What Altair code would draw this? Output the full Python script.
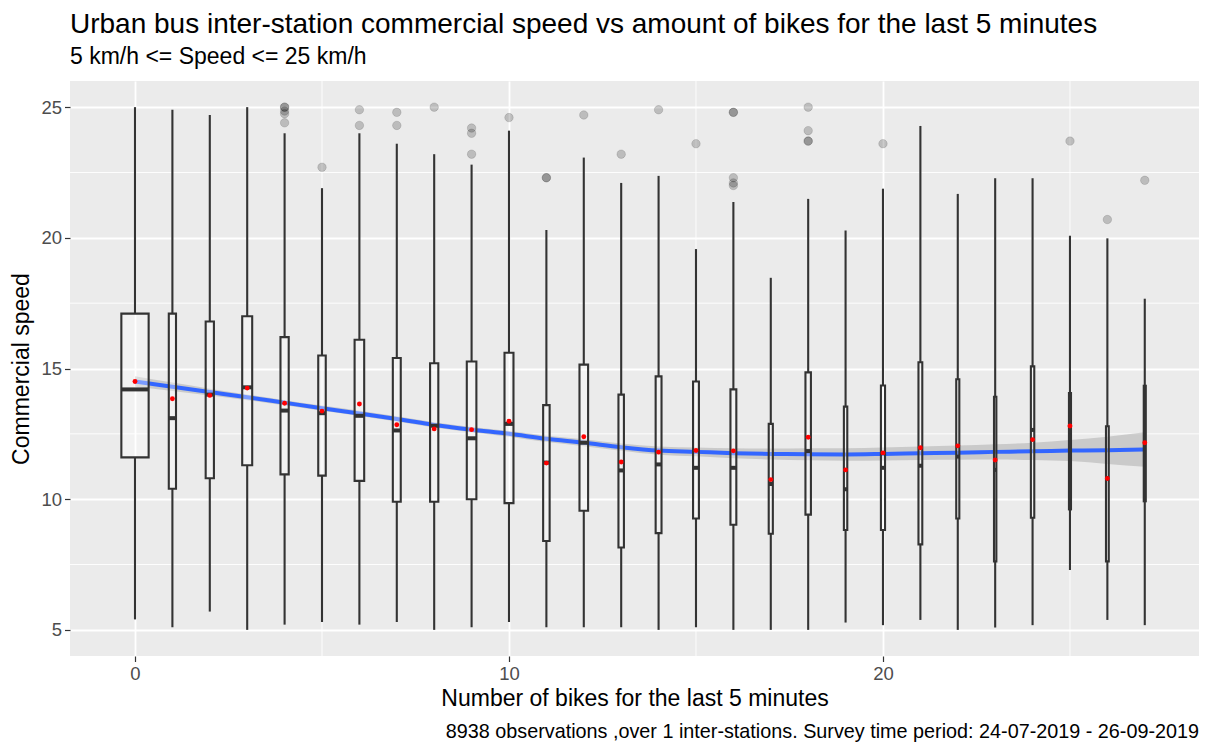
import altair as alt
import pandas as pd
import numpy as np

FONT = "Liberation Sans"

# ---- data ----
bikes = list(range(28))
n_obs = [3569, 249, 325, 478, 325, 271, 440, 301, 325, 440, 385, 202, 355, 143,
         165, 165, 165, 81, 143, 55, 81, 70, 46, 27, 55, 20, 37, 20]
whisker_low = [5.4, 5.1, 5.7, 5.0, 5.2, 5.3, 5.2, 5.3, 5.0, 5.1, 5.3, 5.1, 5.1, 5.1,
               5.0, 5.1, 5.0, 5.0, 5.0, 5.28, 5.18, 5.38, 5.0, 5.09, 5.18, 7.29, 5.38, 5.18]
q1 = [11.6, 10.4, 10.8, 11.3, 10.95, 10.9, 10.7, 9.9, 9.9, 10.0, 9.85, 8.4, 9.56, 8.15,
      8.7, 9.26, 9.02, 8.68, 9.41, 8.82, 8.82, 8.27, 9.26, 7.62, 9.29, 9.61, 7.62, 9.92]
median = [14.2, 13.1, 14.0, 14.28, 13.39, 13.29, 13.19, 12.63, 12.81, 12.33, 12.88, 11.4, 12.16, 11.1,
          11.33, 11.2, 11.2, 10.58, 11.84, 10.38, 11.2, 11.28, 11.63, 11.12, 12.65, 11.9, 10.8, 12.1]
q3 = [17.1, 17.1, 16.8, 17.0, 16.2, 15.5, 16.1, 15.4, 15.2, 15.27, 15.6, 13.6, 15.15, 14.0,
      14.7, 14.5, 14.2, 12.88, 14.85, 13.54, 14.35, 15.24, 14.59, 13.92, 15.08, 14.06, 12.79, 14.34]
whisker_high = [25.0, 24.9, 24.7, 25.0, 24.0, 21.9, 24.0, 23.6, 23.2, 22.8, 24.1, 20.3, 23.07, 22.1,
                22.37, 19.57, 21.37, 18.47, 21.49, 20.28, 21.88, 24.28, 21.68, 22.28, 22.28, 20.08, 19.98, 17.67]
mean_speed = [14.5, 13.84, 13.97, 14.25, 13.67, 13.37, 13.64, 12.85, 12.69, 12.66, 12.98, 11.38, 12.39, 11.42,
              11.8, 11.86, 11.85, 10.75, 12.37, 11.12, 11.77, 11.97, 12.04, 11.5, 12.28, 12.8, 10.79, 12.16]

outlier_bikes = [4, 4, 4, 4, 4, 5, 6, 6, 7, 7, 8, 9, 9, 9, 10, 11, 11, 12, 13, 14, 15,
                 16, 16, 16, 16, 16, 18, 18, 18, 18, 20, 25, 26, 27]
outlier_speed = [25.0, 25.0, 24.85, 24.75, 24.4, 22.7, 24.9, 24.3, 24.8, 24.3, 25.0, 24.2, 24.0, 23.2,
                 24.6, 22.3, 22.3, 24.7, 23.2, 24.9, 23.6, 24.8, 24.8, 22.3, 22.1, 22.0,
                 25.0, 24.1, 23.7, 23.7, 23.6, 23.7, 20.7, 22.2]

smooth_fit = [14.5, 14.3, 14.1, 13.9, 13.69, 13.48, 13.28, 13.07, 12.84, 12.66, 12.5, 12.31, 12.16, 11.99,
              11.86, 11.81, 11.76, 11.73, 11.72, 11.71, 11.73, 11.76, 11.78, 11.81, 11.83, 11.86, 11.87, 11.9]
smooth_se = [0.2, 0.16, 0.13, 0.11, 0.1, 0.1, 0.1, 0.1, 0.1, 0.1, 0.11, 0.12, 0.13, 0.14,
             0.16, 0.17, 0.19, 0.21, 0.23, 0.24, 0.25, 0.26, 0.27, 0.29, 0.33, 0.4, 0.52, 0.66]

x_major = [0, 10, 20]
x_minor = [5, 15, 25]
y_major = [5, 10, 15, 20, 25]
y_minor = [7.5, 12.5, 17.5, 22.5]

title_text = "Urban bus inter-station commercial speed vs amount of bikes for the last 5 minutes"
subtitle_text = "5 km/h <= Speed <= 25 km/h"
caption_text = "8938 observations ,over 1 inter-stations. Survey time period: 24-07-2019 - 26-09-2019"

# ---- tables ----
n_arr = np.array(n_obs, dtype=float)
half = 0.365 * np.sqrt(n_arr / n_arr.max())
boxes = pd.DataFrame({
    "x": bikes, "xl": np.array(bikes) - half, "xr": np.array(bikes) + half,
    "lo": whisker_low, "q1": q1, "med": median, "q3": q3, "hi": whisker_high, "mean": mean_speed,
})
outl = pd.DataFrame({"x": outlier_bikes, "y": outlier_speed})
fit = np.array(smooth_fit)
se = np.array(smooth_se)
smooth = pd.DataFrame({"x": bikes, "fit": fit, "lo": fit - se, "hi": fit + se})

xscale = alt.Scale(domain=[-1.738, 28.45], nice=False, zero=False)
yscale = alt.Scale(domain=[4, 26], nice=False, zero=False)
xaxis = alt.Axis(values=x_major, format="d", title="Number of bikes for the last 5 minutes",
                 titlePadding=4, labelPadding=3)
yaxis = alt.Axis(values=y_major, format="d", title="Commercial speed", titlePadding=7, labelPadding=3)


def X(f):
    return alt.X(f, type="quantitative", scale=xscale, axis=xaxis)


def Y(f):
    return alt.Y(f, type="quantitative", scale=yscale, axis=yaxis)


minor_x = alt.Chart(pd.DataFrame({"v": x_minor})).mark_rule(color="white", strokeWidth=0.9).encode(x=X("v"))
minor_y = alt.Chart(pd.DataFrame({"v": y_minor})).mark_rule(color="white", strokeWidth=0.9).encode(y=Y("v"))

band = alt.Chart(smooth).mark_area(color="#999999", opacity=0.4, interpolate="monotone").encode(
    x=X("x"), y=Y("lo"), y2="hi")
line = alt.Chart(smooth).mark_line(color="#3366FF", strokeWidth=4, interpolate="monotone").encode(
    x=X("x"), y=Y("fit"))

base = alt.Chart(boxes)
rects = base.mark_rect(fill="white", fillOpacity=0.35, stroke="#333333", strokeWidth=2.1).encode(
    x=X("xl"), x2="xr", y=Y("q1"), y2="q3")
w_low = base.mark_rule(color="#333333", strokeWidth=2.1).encode(x=X("x"), y=Y("lo"), y2="q1")
w_high = base.mark_rule(color="#333333", strokeWidth=2.1).encode(x=X("x"), y=Y("q3"), y2="hi")
meds = base.mark_rule(color="#333333", strokeWidth=4).encode(x=X("xl"), x2="xr", y=Y("med"))
means = base.mark_circle(color="red", size=24, opacity=1).encode(x=X("x"), y=Y("mean"))

outs = alt.Chart(outl).mark_circle(fill="black", fillOpacity=0.2, stroke="black", strokeOpacity=0.12,
                                   strokeWidth=1, size=72).encode(x=X("x"), y=Y("y"))

caption = alt.Chart(pd.DataFrame({"t": [caption_text]})).mark_text(
    align="right", baseline="middle", fontSize=19.8, font=FONT, color="black").encode(
    text="t:N", x=alt.value(1129), y=alt.value(651))

chart = alt.layer(minor_x, minor_y, band, line, rects, w_low, w_high, meds, outs, means, caption).properties(
    width=1129, height=575,
    autosize=alt.AutoSizeParams(type="none"),
    padding={"left": 62, "top": 73, "right": 4, "bottom": 88},
    title=alt.TitleParams(text=title_text, subtitle=subtitle_text, anchor="start", frame="group",
                          font=FONT, fontSize=28, fontWeight="normal", color="black",
                          subtitleFont=FONT, subtitleFontSize=23, subtitleColor="black",
                          subtitlePadding=7, offset=12),
).configure_view(fill="#EBEBEB", stroke=None).configure_axis(
    domain=False, grid=True, gridColor="white", gridWidth=1.8,
    tickColor="#333333", tickWidth=1.2, tickSize=5.5,
    labelColor="#4D4D4D", labelFont=FONT, labelFontSize=18.5,
    titleColor="black", titleFont=FONT, titleFontSize=23, titleFontWeight="normal",
)

chart.save("out.html", embed_options={"renderer": "svg", "actions": False})
